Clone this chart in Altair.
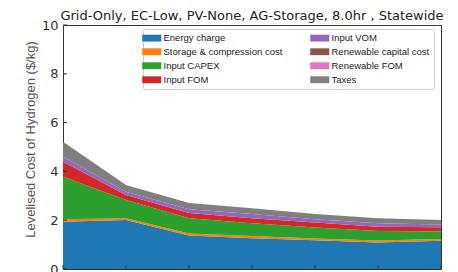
import altair as alt
import pandas as pd

x_vals = [2020, 2025, 2030, 2035, 2040, 2045, 2050]
components = ["Energy charge", "Storage & compression cost", "Input CAPEX", "Input FOM",
              "Input VOM", "Renewable capital cost", "Renewable FOM", "Taxes"]
colors = ["#1f77b4", "#ff7f0e", "#2ca02c", "#d62728", "#9467bd", "#8c564b", "#e377c2", "#7f7f7f"]

energy_charge = [1.94, 2.01, 1.37, 1.26, 1.18, 1.09, 1.16]
storage_comp = [0.10, 0.07, 0.08, 0.09, 0.07, 0.08, 0.07]
input_capex = [1.74, 0.75, 0.63, 0.52, 0.45, 0.39, 0.31]
input_fom = [0.62, 0.20, 0.22, 0.21, 0.21, 0.17, 0.17]
input_vom = [0.20, 0.14, 0.15, 0.17, 0.13, 0.14, 0.11]
renewable_capital = [0.0, 0.0, 0.0, 0.0, 0.0, 0.0, 0.0]
renewable_fom = [0.0, 0.0, 0.0, 0.0, 0.0, 0.0, 0.0]
taxes = [0.62, 0.27, 0.25, 0.24, 0.21, 0.21, 0.19]

y_ticks = [0, 2, 4, 6, 8, 10]

series = [energy_charge, storage_comp, input_capex, input_fom,
          input_vom, renewable_capital, renewable_fom, taxes]
rows = []
for k, (name, vals) in enumerate(zip(components, series)):
    for xv, v in zip(x_vals, vals):
        rows.append({"year": xv, "component": name, "value": v, "k": k})
df = pd.DataFrame(rows)

W, H = 378, 244
Y_TITLE = "Levelised Cost of Hydrogen ($/kg)"

xscale = alt.Scale(domain=[x_vals[0], x_vals[-1]], nice=False, zero=False)
yscale = alt.Scale(domain=[0, 10], nice=False)

x_axis = alt.Axis(title=None, ticks=False, domain=False, grid=False, labels=False)
y_axis = alt.Axis(title=Y_TITLE, values=y_ticks, ticks=False,
                  domain=False, grid=False, labelFontSize=13, labelColor="#333",
                  labelPadding=5, labelFont="DejaVu Sans",
                  titleFont="Liberation Sans", titleFontSize=13, titleFontWeight="normal",
                  titleColor="#555", titleX=-33, titleY=114, titleAngle=270,
                  titleAlign="center", titleBaseline="middle")

area = alt.Chart(df).mark_area(interpolate="linear", opacity=1).encode(
    x=alt.X("year:Q", scale=xscale, axis=x_axis),
    y=alt.Y("value:Q", stack="zero", scale=yscale, axis=y_axis),
    color=alt.Color("component:N",
                    scale=alt.Scale(domain=components, range=colors),
                    legend=alt.Legend(title=None, columns=2, orient="none",
                                      legendX=80, legendY=4)),
    order=alt.Order("k:Q", sort="ascending"),
)

ytick_df = pd.DataFrame({"value": y_ticks})
yt = alt.Chart(ytick_df).mark_rule(color="#333", strokeWidth=1).encode(
    y=alt.Y("value:Q", scale=yscale, axis=y_axis),
    x=alt.value(0), x2=alt.value(4),
)
xtick_df = pd.DataFrame({"year": x_vals})
xt = alt.Chart(xtick_df).mark_rule(color="#333", strokeWidth=1).encode(
    x=alt.X("year:Q", scale=xscale, axis=x_axis),
    y=alt.value(H), y2=alt.value(H - 4),
)

chart = alt.layer(area, yt, xt).properties(
    width=W, height=H,
    title=alt.TitleParams("Grid-Only, EC-Low, PV-None, AG-Storage, 8.0hr , Statewide",
                          font="DejaVu Sans", fontSize=13, fontWeight="normal",
                          color="#222", anchor="middle", offset=6, dy=10, frame="group"),
    autosize=alt.AutoSizeParams(type="none"),
    padding={"left": 55, "top": 17, "right": 9, "bottom": 40},
).configure_view(stroke="#333", strokeWidth=1).configure_legend(
    padding=4, strokeColor="#ccc", fillColor="white", cornerRadius=2,
    labelFont="Liberation Sans", labelFontSize=9.5, labelColor="#222",
    symbolType="M-2.5,-0.9H2.5V0.9H-2.5Z", symbolSize=58, symbolStrokeWidth=0,
    symbolOpacity=1, columnPadding=27, rowPadding=3, labelOffset=7,
)

chart.save("out.html", embed_options={"renderer": "svg", "actions": False})
